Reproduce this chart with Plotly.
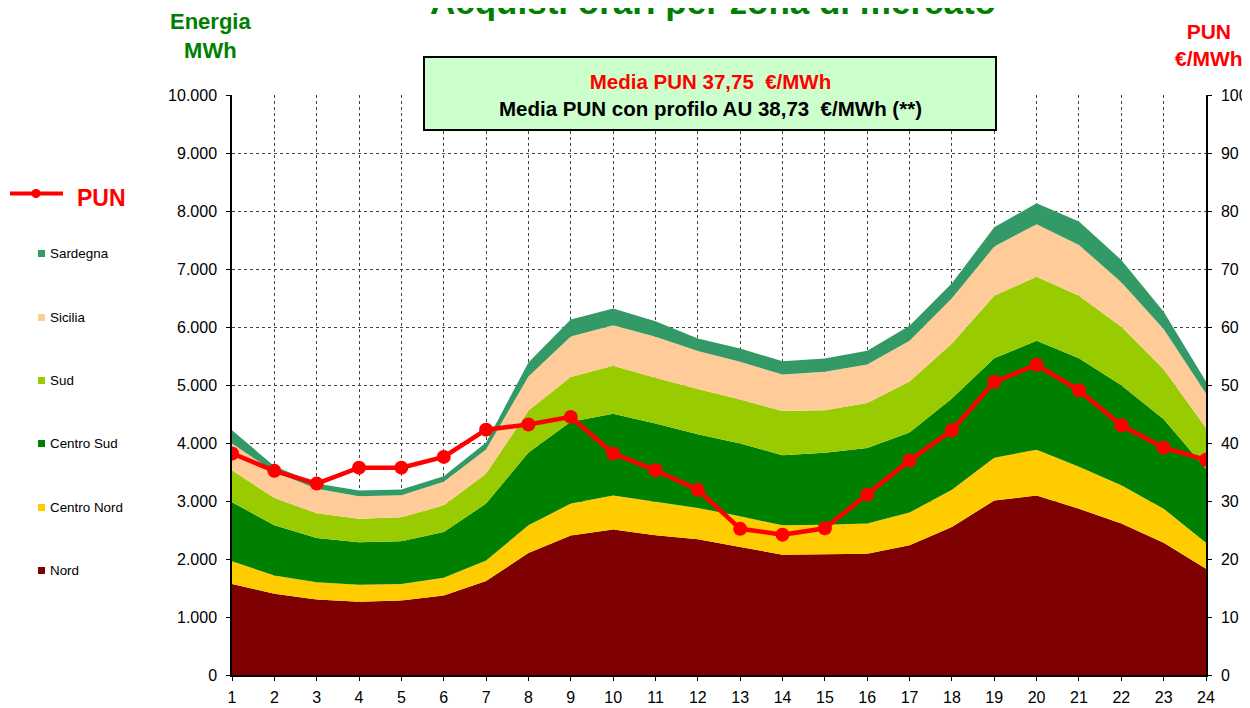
import plotly.graph_objects as go

hours = list(range(1, 25))
nord = [1570, 1400, 1300, 1265, 1285, 1370, 1620, 2105, 2405, 2510, 2410, 2340,
        2205, 2075, 2080, 2090, 2235, 2550, 3010, 3095, 2865, 2610, 2280, 1830]
centro_nord = [390, 315, 300, 290, 285, 305, 355, 475, 550, 585, 575, 540,
               530, 505, 510, 520, 565, 645, 735, 790, 725, 660, 587, 450]
centro_sud = [1020, 865, 760, 735, 735, 790, 980, 1255, 1410, 1410, 1350, 1270,
              1255, 1210, 1240, 1305, 1380, 1572, 1715, 1880, 1870, 1727, 1543, 1278]
sud = [550, 470, 430, 405, 415, 460, 515, 725, 775, 825, 790, 780,
       760, 760, 735, 775, 880, 950, 1080, 1103, 1080, 1008, 860, 702]
sicilia = [460, 450, 420, 385, 380, 405, 420, 585, 695, 700, 705, 655,
           650, 630, 665, 665, 705, 777, 846, 904, 875, 765, 694, 593]
sardegna = [230, 100, 90, 100, 100, 95, 120, 245, 295, 290, 270, 215,
            230, 230, 225, 235, 255, 259, 334, 363, 403, 386, 300, 207]
pun = [38.2, 35.2, 33.0, 35.75, 35.75, 37.6, 42.3, 43.2, 44.5, 38.2, 35.3, 31.95,
       25.2, 24.2, 25.3, 31.1, 37.0, 42.2, 50.55, 53.5, 49.1, 43.05, 39.2, 37.1]

zones = [("Nord", nord, "#7F0000"),
         ("Centro Nord", centro_nord, "#FFCC00"),
         ("Centro Sud", centro_sud, "#008000"),
         ("Sud", sud, "#99CC00"),
         ("Sicilia", sicilia, "#FFCC99"),
         ("Sardegna", sardegna, "#339966")]

left_ticks = list(range(0, 10001, 1000))
right_ticks = list(range(0, 101, 10))

FONT = "Arial, Liberation Sans, sans-serif"
fig = go.Figure()
for name, vals, col in zones:
    fig.add_trace(go.Scatter(x=hours, y=vals, name=name, stackgroup="one",
                             mode="lines", line=dict(width=0, color=col),
                             fillcolor=col, showlegend=False))
fig.add_trace(go.Scatter(x=hours, y=pun, name="PUN", yaxis="y2", mode="lines+markers",
                         line=dict(color="#FF0000", width=4.5),
                         marker=dict(color="#FF0000", size=14), showlegend=False))

# page body has an 8px margin: figure is placed at (8, 8) on screen
OFF = 8
W, H = 1250 - OFF, 708 - OFF
L, R, T, B = 232 - OFF, 44, 95 - OFF, 33
pw, ph = W - L - R, H - T - B

def px(x):  # screen x -> paper x
    return (x - OFF - L) / pw

def py(y):  # screen y -> paper y
    return (H - B - (y - OFF)) / ph

ann = []
ann.append(dict(text="<b>Acquisti orari per zona di mercato</b>", x=px(713), y=py(1),
                xref="paper", yref="paper", showarrow=False, xanchor="center", yanchor="middle",
                font=dict(family=FONT, size=35, color="#008000")))
ann.append(dict(text="<b>Energia<br>MWh</b>", x=px(210), y=py(36), xref="paper", yref="paper",
                showarrow=False, xanchor="center", yanchor="middle", align="center",
                font=dict(family=FONT, size=22, color="#008000")))
ann.append(dict(text="<b>PUN<br>€/MWh</b>", x=px(1209), y=py(45), xref="paper", yref="paper",
                showarrow=False, xanchor="center", yanchor="middle", align="center",
                font=dict(family=FONT, size=21, color="#FF0000")))
ann.append(dict(text="<b><span style='color:#FF0000'>Media PUN 37,75  €/MWh</span><br>Media PUN con profilo AU 38,73  €/MWh (**)</b>",
                x=px(710), y=py(94.5), xref="paper", yref="paper", showarrow=False,
                xanchor="center", yanchor="middle", align="center",
                font=dict(family=FONT, size=20.5, color="#000000")))
ann.append(dict(text="<b>PUN</b>", x=px(75), y=py(197.5), xref="paper", yref="paper",
                showarrow=False, xanchor="left", yanchor="middle",
                font=dict(family=FONT, size=23, color="#FF0000")))

shapes = []
shapes.append(dict(type="rect", xref="paper", yref="paper", x0=px(424), x1=px(996),
                   y0=py(57), y1=py(130), fillcolor="#CCFFCC",
                   line=dict(color="#000000", width=2), layer="above"))
shapes.append(dict(type="line", xref="paper", yref="paper", x0=px(10), x1=px(63),
                   y0=py(193.5), y1=py(193.5), line=dict(color="#FF0000", width=4)))
shapes.append(dict(type="circle", xref="paper", yref="paper", x0=px(31.5), x1=px(40.5),
                   y0=py(189), y1=py(198), fillcolor="#FF0000", line=dict(width=0)))

leg_y = {"Sardegna": 253.5, "Sicilia": 317.5, "Sud": 380.5, "Centro Sud": 443.5,
         "Centro Nord": 507.5, "Nord": 570.5}
for name, vals, col in zones:
    yy = leg_y[name]
    shapes.append(dict(type="rect", xref="paper", yref="paper", x0=px(38), x1=px(45),
                       y0=py(yy - 3.5), y1=py(yy + 3.5), fillcolor=col, line=dict(width=0)))
    ann.append(dict(text=name, x=px(47.5), y=py(yy), xref="paper", yref="paper",
                    showarrow=False, xanchor="left", yanchor="middle",
                    font=dict(family=FONT, size=13.4, color="#000000")))

fig.update_layout(
    width=W, height=H, margin=dict(l=L, r=R, t=T, b=B, pad=0, autoexpand=False),
    paper_bgcolor="white", plot_bgcolor="white", separators=",.",
    font=dict(family=FONT, size=16, color="#000000"),
    xaxis=dict(range=[1, 24], tickmode="array", tickvals=hours, ticktext=[str(h) for h in hours],
               showgrid=True, gridcolor="#444444", griddash="dot", gridwidth=1,
               showline=True, linecolor="#000000", linewidth=1.5, mirror=False,
               ticks="outside", ticklen=4, tickcolor="#000000", zeroline=False,
               tickfont=dict(size=16), ticklabelstandoff=3, automargin=False),
    yaxis=dict(range=[0, 10000], tickmode="array", tickvals=left_ticks,
               ticktext=[f"{v:,}".replace(",", ".") for v in left_ticks],
               showgrid=True, gridcolor="#444444", griddash="dot", gridwidth=1,
               showline=True, linecolor="#000000", linewidth=1.5,
               ticks="outside", ticklen=4, tickcolor="#000000", zeroline=False,
               tickfont=dict(size=16), ticklabelstandoff=6, automargin=False),
    yaxis2=dict(range=[0, 100], overlaying="y", side="right", tickmode="array",
                tickvals=right_ticks, showgrid=False, showline=True,
                linecolor="#000000", linewidth=1.5, ticks="outside", ticklen=4,
                tickcolor="#000000", zeroline=False, tickfont=dict(size=16),
                ticklabelstandoff=6, automargin=False),
    annotations=ann, shapes=shapes,
)
fig.write_html("out.html")
